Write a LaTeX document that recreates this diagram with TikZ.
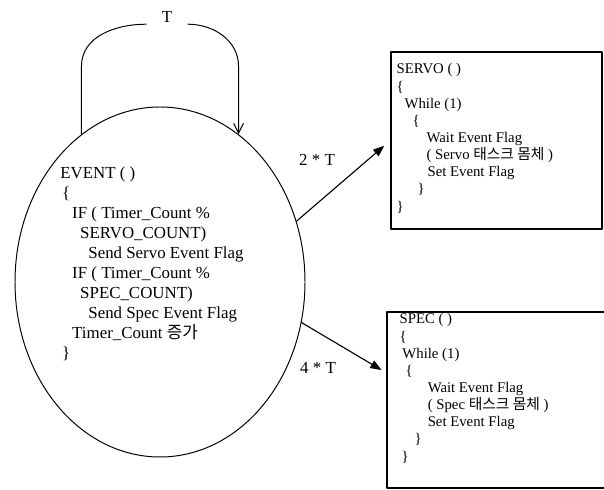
\documentclass[tikz,border=0pt]{standalone}
\usepackage{fontspec}
\setmainfont{Liberation Serif}
\newfontfamily\korfont{Noto Sans CJK KR}
\usetikzlibrary{calc,arrows.meta,positioning,shapes.geometric}
\newcommand{\ind}[1]{\hspace*{#1}}

\begin{document}
\begin{tikzpicture}[
  line cap=round,
  line join=round,
  taskarrow/.style={black,line width=0.8pt,-{Triangle[length=8pt,width=6pt]}},
  looparrow/.style={black,line width=0.7pt},
  eventshape/.style={ellipse,draw=black,line width=0.7pt,
    minimum width=7.25cm,minimum height=8.75cm,inner sep=0pt},
  taskbox/.style={rectangle,draw=black,line width=0.9pt,inner sep=0pt},
  eventcode/.style={align=left,inner sep=0pt,font=\fontsize{12}{14.2}\selectfont},
  taskcode/.style={align=left,inner sep=0pt,font=\fontsize{10.5}{12.2}\selectfont},
  period/.style={font=\fontsize{12}{14}\selectfont}
]
\path[use as bounding box] (0,0) rectangle (15.1,12.25);

% timer event routine
\node[eventshape] (event) at (4.0,5.2) {};
\node[eventcode,anchor=north west] (eventtxt) at (1.5,8.075)
{
  EVENT ( )\\
  \ind{1.4pt}\{\\
  \ind{8.5pt}IF ( Timer\_Count \%\\
  \ind{14.2pt}SERVO\_COUNT)\\
  \ind{20pt}Send Servo Event Flag\\
  \ind{8.5pt}IF ( Timer\_Count \%\\
  \ind{14.2pt}SPEC\_COUNT)\\
  \ind{20pt}Send Spec Event Flag\\
  \ind{8.5pt}Timer\_Count {\korfont 증가}\\
  \ind{1.4pt}\}
};

% self loop every T
\node[period,inner xsep=11pt,inner ysep=1pt] (tick) at (4.175,11.825) {T};
\draw[looparrow] (event.118) -- ++(0,1.7)
  to[out=90,in=180] (tick.south west);
\draw[looparrow,-{Straight Barb[length=7pt,width=7pt]}] (tick.south east)
  to[out=0,in=90] ($(event.62)+(0,1.7)$) -- (event.62);

% servo task
\node[taskbox,minimum width=5.275cm,minimum height=4.425cm] (servo)
  at (12.4125,8.7375) {};
\node[taskcode,below right=0.3cm and 0.15cm of servo.north west] (servotxt)
{
  SERVO ( )\\
  \{\\
  \ind{5.7pt}While (1)\\
  \ind{11.4pt}\{\\
  \ind{21.3pt}Wait Event Flag\\
  \ind{21.3pt}( Servo {\korfont 태스크 몸체} )\\
  \ind{22pt}Set Event Flag\\
  \ind{15pt}\}\\
  \}
};

% spec task (runs off the right edge)
\node[taskbox,minimum width=5.725cm,minimum height=4.4cm] (spec)
  at (12.5375,2.25) {};
\node[taskcode,below right=0.05cm and 0.325cm of spec.north west] (spectxt)
{
  SPEC ( )\\
  \{\\
  \ind{2pt}While (1)\\
  \ind{4.3pt}\{\\
  \ind{20pt}Wait Event Flag\\
  \ind{20pt}( Spec {\korfont 태스크 몸체} )\\
  \ind{20pt}Set Event Flag\\
  \ind{10.7pt}\}\\
  \ind{1.4pt}\}
};

% dispatch arrows
\node[period] (twoT) at (7.925,8.25) {2 * T};
\node[period] (fourT) at (7.95,3.05) {4 * T};
\draw[taskarrow,shorten >=5.7pt] (event.24) -- (servo.west);
\draw[taskarrow] (event.-16) -- ([xshift=-0.12cm,yshift=0.75cm]spec.west);
\end{tikzpicture}
\end{document}
